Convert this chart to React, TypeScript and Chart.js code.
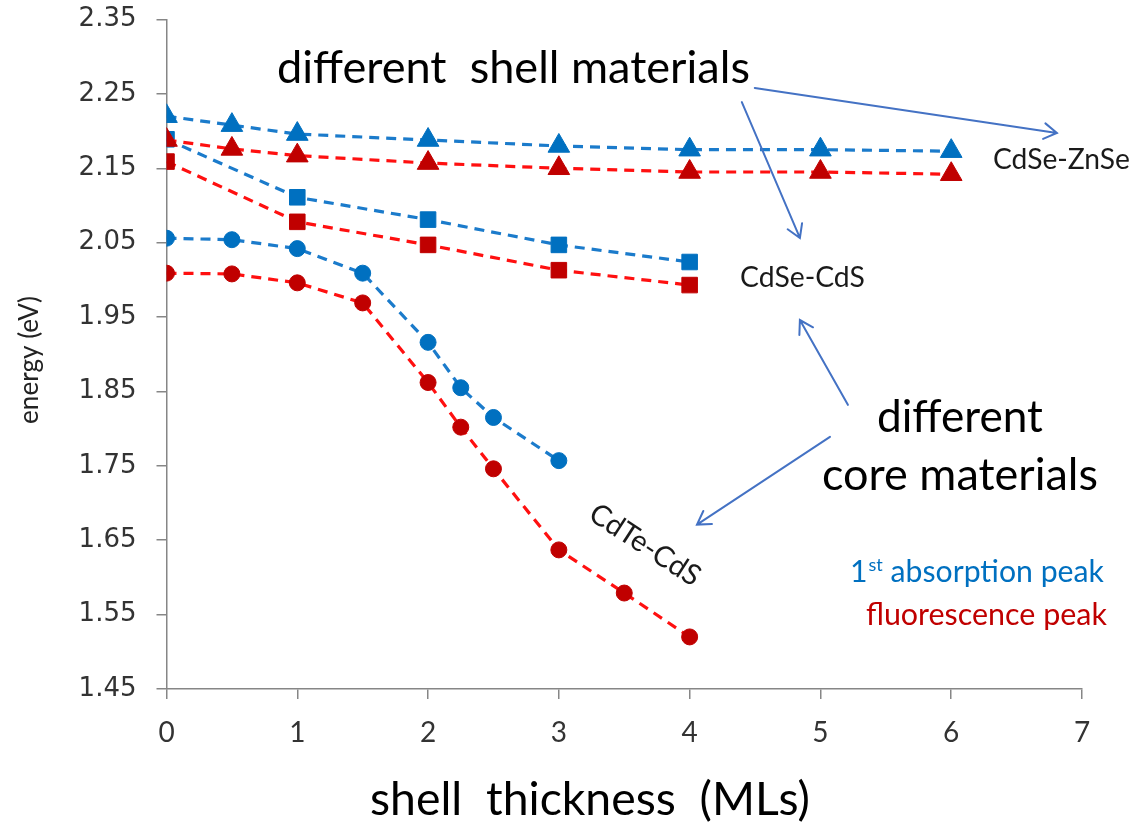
import React, { useEffect, useRef } from "react";
import { Chart, registerables } from "chart.js";

Chart.register(...registerables);

// ---- data ----
const xTickValues = [0, 1, 2, 3, 4, 5, 6, 7];
const yTickValues = [1.45, 1.55, 1.65, 1.75, 1.85, 1.95, 2.05, 2.15, 2.25, 2.35];

const znseX = [0, 0.5, 1, 2, 3, 4, 5, 6];
const znseAbs = [2.22, 2.208, 2.196, 2.188, 2.18, 2.175, 2.175, 2.173];
const znseFl = [2.188, 2.176, 2.167, 2.157, 2.15, 2.145, 2.145, 2.142];

const cdsX = [0, 1, 2, 3, 4];
const cdsAbs = [2.189, 2.111, 2.081, 2.047, 2.024];
const cdsFl = [2.159, 2.078, 2.047, 2.013, 1.993];

const cdteAbsX = [0, 0.5, 1, 1.5, 2, 2.25, 2.5, 3];
const cdteAbs = [2.056, 2.054, 2.042, 2.009, 1.916, 1.855, 1.815, 1.757];
const cdteFlX = [0, 0.5, 1, 1.5, 2, 2.25, 2.5, 3, 3.5, 4];
const cdteFl = [2.009, 2.008, 1.996, 1.969, 1.862, 1.802, 1.746, 1.637, 1.579, 1.52];

const xTitle = "shell  thickness  (MLs)";
const yTitle = "energy (eV)";
const shellNote = "different  shell materials";
const coreNote1 = "different";
const coreNote2 = "core materials";
const labelZnSe = "CdSe-ZnSe";
const labelCdS = "CdSe-CdS";
const labelCdTe = "CdTe-CdS";
const legendAbs = ["1", "st", " absorption peak"];
const legendFl = "fluorescence peak";

const BLUE_M = "#0070C0";
const BLUE_L = "#1B7BCB";
const RED_M = "#C00000";
const RED_L = "#FF1010";
const ARROW = "#4472C4";
const FONT = "Lato, 'Open Sans', sans-serif";

const pts = (xs: number[], ys: number[]) => xs.map((x, i) => ({ x, y: ys[i] }));

function makeSet(label: string, xs: number[], ys: number[], style: string, abs: boolean) {
  const radius = style === "triangle" ? 12.5 : style === "rect" ? 11 : 8;
  return {
    label,
    data: pts(xs, ys),
    showLine: true,
    borderColor: abs ? BLUE_L : RED_L,
    borderWidth: 3.2,
    borderDash: [10, 7],
    pointStyle: style,
    pointRadius: radius,
    pointBackgroundColor: abs ? BLUE_M : RED_M,
    pointBorderColor: abs ? BLUE_M : RED_M,
    pointBorderWidth: 1,
    fill: false,
    tension: 0,
  };
}

function fitSize(ctx: CanvasRenderingContext2D, text: string, width: number) {
  ctx.font = `100px ${FONT}`;
  return (100 * width) / ctx.measureText(text).width;
}

function drawText(
  ctx: CanvasRenderingContext2D,
  text: string,
  left: number,
  cy: number,
  width: number,
  color: string
) {
  const size = fitSize(ctx, text, width);
  ctx.font = `${size}px ${FONT}`;
  ctx.fillStyle = color;
  ctx.textAlign = "left";
  ctx.textBaseline = "middle";
  ctx.fillText(text, left, cy);
}

function arrow(ctx: CanvasRenderingContext2D, x1: number, y1: number, x2: number, y2: number) {
  const ang = Math.atan2(y2 - y1, x2 - x1);
  const len = 15;
  const spread = 0.55;
  ctx.save();
  ctx.strokeStyle = ARROW;
  ctx.lineWidth = 2;
  ctx.lineCap = "round";
  ctx.beginPath();
  ctx.moveTo(x1, y1);
  ctx.lineTo(x2, y2);
  ctx.moveTo(x2 - len * Math.cos(ang - spread), y2 - len * Math.sin(ang - spread));
  ctx.lineTo(x2, y2);
  ctx.lineTo(x2 - len * Math.cos(ang + spread), y2 - len * Math.sin(ang + spread));
  ctx.stroke();
  ctx.restore();
}

const overlay = {
  id: "overlay",
  afterDraw(chart: any) {
    const { ctx } = chart;
    const xs = chart.scales.x;
    const ys = chart.scales.y;
    const P = (a: number, b: number) => [xs.getPixelForValue(a), ys.getPixelForValue(b)];
    ctx.save();

    // y-axis title (rotated, fitted to its length in the reference)
    let [px, py] = P(0, 1.8923);
    const ts = fitSize(ctx, yTitle, 128);
    ctx.save();
    ctx.translate(ys.left + 30, py);
    ctx.rotate(-Math.PI / 2);
    ctx.font = `${ts}px ${FONT}`;
    ctx.fillStyle = "#222";
    ctx.textAlign = "center";
    ctx.textBaseline = "middle";
    ctx.fillText(yTitle, 0, 0);
    ctx.restore();

    [px, py] = P(0.845, 2.2848);
    drawText(ctx, shellNote, px, py, 473, "#000");
    [px, py] = P(5.432, 1.8144);
    drawText(ctx, coreNote1, px, py, 166, "#000");
    [px, py] = P(5.012, 1.7364);
    drawText(ctx, coreNote2, px, py, 276, "#000");
    [px, py] = P(6.319, 2.1612);
    drawText(ctx, labelZnSe, px, py, 137, "#1a1a1a");
    [px, py] = P(4.385, 2.0026);
    drawText(ctx, labelCdS, px, py, 125, "#1a1a1a");

    // rotated CdTe label
    [px, py] = P(3.658, 1.6437);
    const s = fitSize(ctx, labelCdTe, 126);
    ctx.save();
    ctx.translate(px, py);
    ctx.rotate((33 * Math.PI) / 180);
    ctx.font = `${s}px ${FONT}`;
    ctx.fillStyle = "#1a1a1a";
    ctx.textAlign = "center";
    ctx.textBaseline = "middle";
    ctx.fillText(labelCdTe, 0, 0);
    ctx.restore();

    // legend-like notes
    [px, py] = P(5.226, 1.6074);
    ctx.font = `100px ${FONT}`;
    const w1 = ctx.measureText(legendAbs[0]).width + ctx.measureText(legendAbs[2]).width;
    ctx.font = `60px ${FONT}`;
    const w2 = ctx.measureText(legendAbs[1]).width;
    const k = 253 / (w1 + w2);
    const big = 100 * k;
    const small = 60 * k;
    ctx.fillStyle = BLUE_M;
    ctx.textAlign = "left";
    ctx.textBaseline = "middle";
    ctx.font = `${big}px ${FONT}`;
    ctx.fillText(legendAbs[0], px, py);
    let cx = px + ctx.measureText(legendAbs[0]).width;
    ctx.font = `${small}px ${FONT}`;
    ctx.fillText(legendAbs[1], cx + 1, py - big * 0.22);
    cx += ctx.measureText(legendAbs[1]).width + 1;
    ctx.font = `${big}px ${FONT}`;
    ctx.fillText(legendAbs[2], cx, py);

    [px, py] = P(5.348, 1.5496);
    drawText(ctx, legendFl, px, py, 241, RED_M);

    // x-axis title
    [px, py] = P(1.556, 1.3007);
    drawText(ctx, xTitle, px, py, 440, "#000");

    // arrows
    const a = (x1: number, y1: number, x2: number, y2: number) => {
      const [p1x, p1y] = P(x1, y1);
      const [p2x, p2y] = P(x2, y2);
      arrow(ctx, p1x, p1y, p2x, p2y);
    };
    a(4.498, 2.258, 6.808, 2.1974);
    a(4.399, 2.239, 4.843, 2.0563);
    a(5.21, 1.832, 4.843, 1.946);
    a(5.073, 1.789, 4.056, 1.671);

    ctx.restore();
  },
};

export default function App() {
  const ref = useRef<HTMLCanvasElement>(null);
  useEffect(() => {
    const canvas = ref.current!;
    const chart = new Chart(canvas, {
      type: "scatter",
      data: {
        datasets: [
          makeSet("CdSe-ZnSe absorption", znseX, znseAbs, "triangle", true),
          makeSet("CdSe-ZnSe fluorescence", znseX, znseFl, "triangle", false),
          makeSet("CdSe-CdS absorption", cdsX, cdsAbs, "rect", true),
          makeSet("CdSe-CdS fluorescence", cdsX, cdsFl, "rect", false),
          makeSet("CdTe-CdS absorption", cdteAbsX, cdteAbs, "circle", true),
          makeSet("CdTe-CdS fluorescence", cdteFlX, cdteFl, "circle", false),
        ] as any,
      },
      options: {
        responsive: false,
        animation: false,
        layout: { padding: { left: 0, top: 19.5, right: 54, bottom: 0 } },
        plugins: { legend: { display: false }, tooltip: { enabled: false } },
        scales: {
          x: {
            type: "linear",
            min: 0,
            max: 7,
            afterBuildTicks: (s: any) => {
              s.ticks = xTickValues.map((v) => ({ value: v }));
            },
            afterFit: (s: any) => {
              s.height = 141;
              s.paddingLeft = 0;
              s.paddingRight = 0;
            },
            grid: { drawOnChartArea: false, drawTicks: true, tickLength: 10, color: "#868686", lineWidth: 1.5 },
            border: { display: true, color: "#868686", width: 1.5 },
            ticks: {
              padding: 17,
              color: "#333",
              font: { family: "'Liberation Sans Narrow', Lato, sans-serif", size: 28 },
              callback: (v: any) => String(v),
            },
          },
          y: {
            type: "linear",
            min: 1.45,
            max: 2.35,
            afterBuildTicks: (s: any) => {
              s.ticks = yTickValues.map((v) => ({ value: v }));
            },
            afterFit: (s: any) => {
              s.width = 166.5;
              s.paddingTop = 0;
              s.paddingBottom = 0;
            },
            grid: { drawOnChartArea: false, drawTicks: true, tickLength: 10, color: "#868686", lineWidth: 1.5 },
            border: { display: true, color: "#868686", width: 1.5 },
            ticks: {
              padding: 20,
              color: "#333",
              font: { family: "'DejaVu Sans', sans-serif", size: 26 },
              callback: (v: any) => Number(v).toFixed(2),
            },
          },
        },
      } as any,
      plugins: [overlay],
    });
    return () => chart.destroy();
  }, []);
  return (
    <div style={{ position: "absolute", left: 0, top: 0, width: 1136, height: 830, background: "#fff" }}>
      <canvas ref={ref} width={1136} height={830} style={{ width: 1136, height: 830, display: "block" }} />
    </div>
  );
}
